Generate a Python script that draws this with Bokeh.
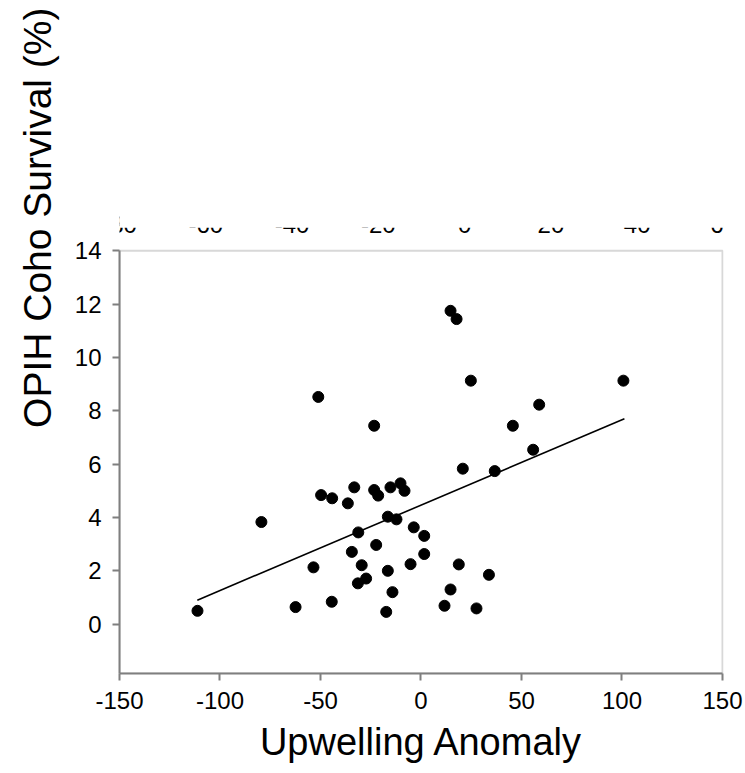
import numpy as np
from bokeh.plotting import figure
from bokeh.models import Range1d, FixedTicker, BoxAnnotation, Title
from bokeh.core.properties import value
from bokeh.embed import file_html
from bokeh.resources import INLINE

# Data
upwelling = [14.7, -51.1, -23.3, -79.4, -111.2, -49.7, -44.2, -33.2, -36.4, -23.3,
             -21.3, -15.2, -10.2, -8.2, -16.5, -12.2, -31.2, -3.6, 1.6, -22.3,
             -34.4, 1.6, -53.5, -29.5, -16.5, -5.2, -27.3, -31.4, -14.2, -44.4,
             -62.4, -17.3, 17.7, 24.8, 100.7, 58.8, 45.7, 55.8, 20.8, 36.7,
             18.8, 33.8, 14.7, 11.7, 27.6]
survival = [11.75, 8.52, 7.44, 3.83, 0.50, 4.84, 4.72, 5.13, 4.53, 5.03,
            4.82, 5.13, 5.28, 5.00, 4.03, 3.93, 3.44, 3.63, 3.31, 2.97,
            2.71, 2.63, 2.13, 2.21, 2.00, 2.25, 1.71, 1.53, 1.20, 0.84,
            0.64, 0.46, 11.44, 9.13, 9.13, 8.23, 7.44, 6.54, 5.83, 5.74,
            2.24, 1.85, 1.30, 0.69, 0.59]
trend_x = [-111.3, 101.2]
trend_y = [0.90, 7.70]

x_ticks = [-150, -100, -50, 0, 50, 100, 150]
y_ticks = [0, 2, 4, 6, 8, 10, 12, 14]
top_ticks = [-80, -60, -40, -20, 0, 20, 40, 60]   # cut-off labels of the panel above

x_title = "Upwelling Anomaly"
y_title = "OPIH Coho Survival (%)"

FONT = "Liberation Sans"
GRAY = "#7f7f7f"

X_MIN, X_MAX = -150, 150
Y_MIN, Y_MAX = -1.85, 14
Y_TOP = 23.385        # frame extends to the top of the picture

p = figure(width=745, height=773,
           x_range=Range1d(X_MIN, X_MAX + 0.5), y_range=Range1d(Y_MIN, Y_TOP),
           output_backend="svg", toolbar_location=None,
           min_border_left=119, min_border_right=22,
           min_border_top=0, min_border_bottom=100)
p.background_fill_color = "white"
p.border_fill_color = "white"
p.outline_line_color = None
p.xgrid.visible = False
p.ygrid.visible = False

xa = p.below[0]
ya = p.left[0]
for ax in (xa, ya):
    ax.axis_line_color = GRAY
    ax.axis_line_width = 2
    ax.major_tick_line_color = GRAY
    ax.major_tick_line_width = 2
    ax.major_tick_out = 7
    ax.major_tick_in = 0
    ax.minor_tick_line_color = None
    ax.major_label_text_font = FONT
    ax.major_label_text_font_size = "24px"
    ax.major_label_text_color = "black"
    ax.major_label_standoff = 11
xa.ticker = FixedTicker(ticks=x_ticks)
ya.ticker = FixedTicker(ticks=y_ticks)
xa.bounds = (X_MIN, X_MAX)
ya.bounds = (Y_MIN, Y_MAX)
xa.major_label_overrides = {t: str(t) for t in x_ticks}
ya.major_label_overrides = {t: str(t) for t in y_ticks}

xa.axis_label = x_title
xa.axis_label_text_font = FONT
xa.axis_label_text_font_size = "38px"
xa.axis_label_text_font_style = "normal"
xa.axis_label_text_color = "black"
xa.axis_label_standoff = 9

# y title: a side title aligned to the top of the (extended) frame
ytitle = Title(text=y_title, align="right", offset=7, standoff=25,
               text_font=FONT, text_font_size="39px",
               text_font_style="normal", text_color="black")
p.add_layout(ytitle, "left")

# plot box (top and right sides)
box = BoxAnnotation(left=X_MIN, right=X_MAX, bottom=Y_MIN, top=Y_MAX,
                    fill_alpha=0, line_color=GRAY, line_width=2)
p.add_layout(box)

# cut-off tick labels of the panel above (only their lower edge shows)
p.extra_x_ranges = {"top": Range1d(top_ticks[0], top_ticks[-1])}
p.text(x=top_ticks, y=[14.98] * len(top_ticks), text=[str(t) for t in top_ticks],
       x_range_name="top", text_align="center", text_baseline="alphabetic",
       text_font=value(FONT), text_font_size="24px", text_color="black")
p.quad(left=[X_MIN - 5], right=[X_MAX + 5], bottom=[14.86], top=[Y_TOP + 1],
       fill_color="white", line_color=None)

p.scatter(upwelling, survival, size=11, color="black")
p.line(trend_x, trend_y, line_color="black", line_width=1.6)

open("out.html", "w").write(file_html(p, INLINE))
